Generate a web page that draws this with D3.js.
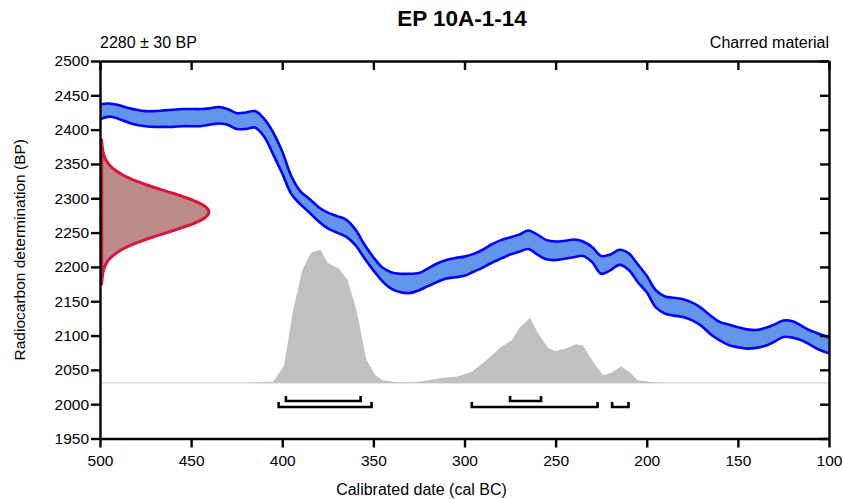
<!DOCTYPE html>
<html>
<head>
<meta charset="utf-8">
<script src="https://cdn.jsdelivr.net/npm/d3@7"></script>
<style>
  body { margin: 0; background: #fff; }
  svg text { font-family: "Liberation Sans", Arial, sans-serif; fill: #000; }
</style>
</head>
<body>
<div id="chart"></div>
<script>
// calibration curve (cal BC, upper / lower 1 sigma in BP)
var calYears = [500,495,490,485,480,475,470,465,460,455,450,445,440,435,430,425,420,415,410,405,
  400,395,390,385,380,375,370,365,360,355,350,345,340,335,330,325,320,315,310,305,
  300,295,290,285,280,275,270,265,260,255,250,245,240,235,230,225,220,215,210,205,
  200,195,190,185,180,175,170,165,160,155,150,145,140,135,130,125,120,115,110,105,100];
var calUpper = [2437,2438,2436,2432,2429,2427,2427,2428,2429,2430,2430,2430,2431,2433,2430,2424,2425,2427,2416,2396,
  2368,2332,2310,2299,2287,2279,2274,2269,2255,2233,2214,2199,2192,2190,2190,2191,2198,2205,2210,2213,
  2215,2219,2225,2233,2239,2243,2247,2253,2247,2239,2237,2238,2240,2237,2229,2216,2218,2225,2220,2204,
  2187,2166,2157,2155,2153,2148,2140,2129,2120,2116,2112,2109,2108,2111,2116,2122,2121,2114,2107,2102,2097];
var calLower = [2415,2419,2416,2411,2407,2405,2404,2404,2404,2405,2405,2405,2407,2409,2407,2401,2401,2403,2390,2364,
  2336,2306,2291,2279,2266,2256,2250,2244,2232,2213,2195,2179,2168,2163,2162,2166,2172,2178,2183,2185,
  2187,2193,2199,2206,2212,2218,2222,2226,2218,2211,2210,2212,2214,2216,2207,2190,2195,2203,2196,2178,
  2163,2141,2132,2129,2127,2122,2114,2102,2093,2086,2083,2081,2082,2085,2091,2098,2097,2093,2086,2079,2074];

// measured date 2280 +/- 30 BP (relative density)
var dateBP = [2175,2182.5,2190,2197.5,2205,2212.5,2220,2227.5,2235,2242.5,2250,2257.5,2265,2272.5,2280,
  2287.5,2295,2302.5,2310,2317.5,2325,2332.5,2340,2347.5,2355,2362.5,2370,2377.5,2385];
var dateDensity = [0.002,0.005,0.011,0.023,0.044,0.080,0.135,0.216,0.325,0.458,0.607,0.755,0.882,0.969,1,
  0.969,0.882,0.755,0.607,0.458,0.325,0.216,0.135,0.080,0.044,0.023,0.011,0.005,0.002];

// calibrated distribution (cal BC, relative probability)
var probYears = [420,412,405,399,394,389,384,379,375,369,364,359,354,349,345,337,330,324,312,304,
  296,288,280,274,270,264,260,254,250,244,239,235,229,224,219,214,209,205,196,190];
var probValues = [0,0.004,0.008,0.13,0.55,0.85,0.98,1.0,0.90,0.86,0.77,0.53,0.18,0.06,0.02,0.005,0.004,0.011,0.038,0.049,
  0.083,0.17,0.27,0.32,0.41,0.49,0.38,0.26,0.24,0.26,0.29,0.28,0.15,0.058,0.078,0.126,0.075,0.02,0.004,0];

// ranges (cal BC)
var range68 = [[398,357],[275,258]];
var range95 = [[402,351],[296,227],[219,210]];

var xTicks = [500,450,400,350,300,250,200,150,100];
var yTicks = [1950,2000,2050,2100,2150,2200,2250,2300,2350,2400,2450,2500];

var width = 843, height = 500;
var margin = {top: 61, right: 14, bottom: 61.5, left: 100};

var svg = d3.select("#chart").append("svg")
    .attr("width", width)
    .attr("height", height);

var x = d3.scaleLinear().domain([500,100]).range([margin.left, width - margin.right]);
var y = d3.scaleLinear().domain([1950,2500]).range([height - margin.bottom, margin.top]);

// probability distribution
var probBase = 2031;
var py = d3.scaleLinear().domain([0,1]).range([y(probBase), y(2225)]);
var probData = probYears.map((d,i) => ({yr: d, p: probValues[i]}));

svg.append("line")
    .attr("x1", x(500)).attr("x2", x(100))
    .attr("y1", py(0)).attr("y2", py(0))
    .attr("stroke", "#d4d4d4").attr("stroke-width", 1.2);

svg.append("path")
    .datum(probData)
    .attr("fill", "#c0c0c0")
    .attr("d", d3.area().x(d => x(d.yr)).y0(py(0)).y1(d => py(d.p)));

// calibration curve band
var calData = calYears.map((d,i) => ({yr: d, hi: calUpper[i], lo: calLower[i]}));
svg.append("path")
    .datum(calData)
    .attr("fill", "#6495ed")
    .attr("d", d3.area().curve(d3.curveCatmullRom).x(d => x(d.yr)).y0(d => y(d.lo)).y1(d => y(d.hi)));
["hi","lo"].forEach(k => {
  svg.append("path")
      .datum(calData)
      .attr("fill", "none")
      .attr("stroke", "#0000ff")
      .attr("stroke-width", 2.6)
      .attr("stroke-linejoin", "round")
      .attr("d", d3.line().curve(d3.curveCatmullRom).x(d => x(d.yr)).y(d => y(d[k])));
});

// measured date distribution
var dx = d3.scaleLinear().domain([0,1]).range([x(500) + 1.5, x(500) + 109]);
var dateData = dateBP.map((d,i) => ({bp: d, p: dateDensity[i]}));
var dateLine = d3.line().curve(d3.curveCatmullRom).x(d => dx(d.p)).y(d => y(d.bp));
svg.append("path")
    .datum(dateData)
    .attr("fill", "#bb8b8a")
    .attr("stroke", "#dc143c")
    .attr("stroke-width", 3)
    .attr("stroke-linejoin", "round")
    .attr("d", d => dateLine(d) + "Z");

// range brackets
function brackets(ranges, level) {
  var yy = y(level);
  svg.append("g")
      .attr("fill", "none")
      .attr("stroke", "#000")
      .attr("stroke-width", 2.6)
    .selectAll("path")
    .data(ranges)
    .join("path")
      .attr("d", d => `M${x(d[0])},${yy - 5}V${yy}H${x(d[1])}V${yy - 5}`);
}
brackets(range68, 2004.6);
brackets(range95, 1995.9);

// axes
var gx = svg.append("g")
    .attr("transform", `translate(0,${y(1950)})`)
    .call(d3.axisBottom(x).tickValues(xTicks).tickSize(9).tickPadding(7).tickSizeOuter(0));
var gxTop = svg.append("g")
    .attr("transform", `translate(0,${y(2500)})`)
    .call(d3.axisBottom(x).tickValues(xTicks).tickSize(9).tickFormat("").tickSizeOuter(0));
var gy = svg.append("g")
    .attr("transform", `translate(${x(500)},0)`)
    .call(d3.axisLeft(y).tickValues(yTicks).tickFormat(d3.format("d")).tickSize(9).tickPadding(2).tickSizeOuter(0));
var gyRight = svg.append("g")
    .attr("transform", `translate(${x(100)},0)`)
    .call(d3.axisLeft(y).tickValues(yTicks).tickSize(9).tickFormat("").tickSizeOuter(0));

[gx, gxTop, gy, gyRight].forEach(g => {
  g.selectAll(".domain").attr("stroke", "#000").attr("stroke-width", 2.4);
  g.selectAll(".tick line").attr("stroke", "#000").attr("stroke-width", 2.4);
  g.selectAll("text").attr("font-size", "15.5px").attr("fill", "#000")
    .attr("font-family", '"Liberation Sans", Arial, sans-serif');
});

// titles
svg.append("text")
    .attr("x", 462).attr("y", 26)
    .attr("text-anchor", "middle")
    .attr("font-size", "22.5px")
    .attr("font-weight", "bold")
    .text("EP 10A-1-14");
svg.append("text")
    .attr("x", x(500)).attr("y", 48)
    .attr("font-size", "16px")
    .text("2280 \u00b1 30 BP");
svg.append("text")
    .attr("x", x(100)).attr("y", 48)
    .attr("text-anchor", "end")
    .attr("font-size", "16px")
    .text("Charred material");
svg.append("text")
    .attr("x", width / 2).attr("y", 495)
    .attr("text-anchor", "middle")
    .attr("font-size", "16px")
    .text("Calibrated date (cal BC)");
svg.append("text")
    .attr("transform", `translate(25,${(y(1950) + y(2500)) / 2}) rotate(-90)`)
    .attr("text-anchor", "middle")
    .attr("font-size", "15.5px")
    .text("Radiocarbon determination (BP)");
</script>
</body>
</html>
